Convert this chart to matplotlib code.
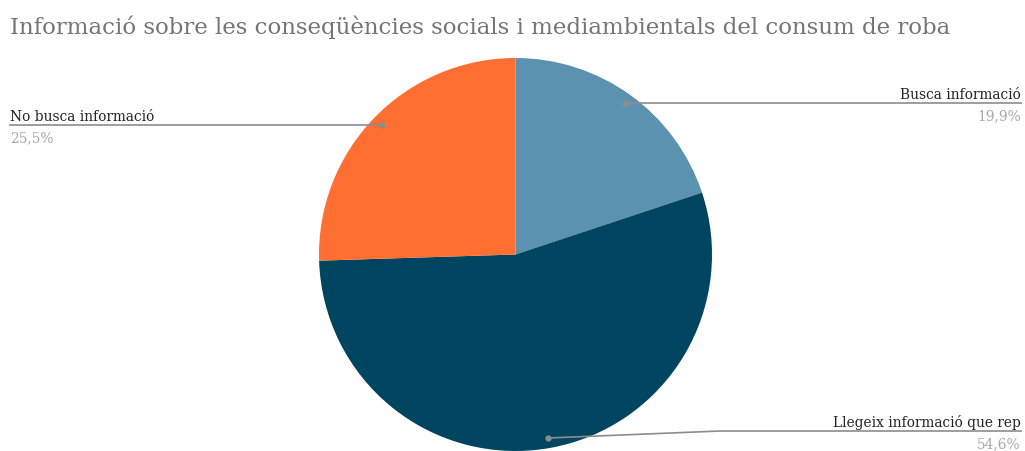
import matplotlib
matplotlib.use("Agg")
import matplotlib.pyplot as plt

labels = ["Busca informació", "Llegeix informació que rep", "No busca informació"]
values = [19.9, 54.6, 25.5]
pct_labels = ["19,9%", "54,6%", "25,5%"]
colors = ["#5b92b0", "#00455f", "#ff6f31"]
title = "Informació sobre les conseqüències socials i mediambientals del consum de roba"

W, H = 1025, 451
fig = plt.figure(figsize=(W / 100, H / 100), dpi=100)
ax = fig.add_axes([0, 0, 1, 1])

cx, cy, r = 515.5, H - 254.5, 196.5
ax.pie(values, colors=colors, startangle=90, counterclock=False,
       center=(cx, cy), radius=r, frame=True,
       wedgeprops=dict(linewidth=0))
ax.set_xlim(0, W)
ax.set_ylim(0, H)
ax.set_aspect("equal")
ax.axis("off")

serif = ["DejaVu Serif"]
fig.text(10 / W, 1 - 27 / H, title, fontsize=16.5, color="#757575",
         family=serif, ha="left", va="center")

line_c = "#8c8c8c"
lab_c = "#222222"
pct_c = "#a8a8a8"
fs = 9.9

# Busca informació
ax.plot([625, 1021], [H - 103, H - 103], color=line_c, lw=1.2)
ax.plot([625], [H - 103], "o", color=line_c, ms=3.5)
ax.text(1021, H - 99, labels[0], ha="right", va="baseline", fontsize=fs, color=lab_c, family=serif)
ax.text(1021, H - 120, pct_labels[0], ha="right", va="baseline", fontsize=fs, color=pct_c, family=serif)

# No busca informació
ax.plot([382, 10], [H - 125, H - 125], color=line_c, lw=1.2)
ax.plot([382], [H - 125], "o", color=line_c, ms=3.5)
ax.text(10, H - 121, labels[2], ha="left", va="baseline", fontsize=fs, color=lab_c, family=serif)
ax.text(10, H - 142, pct_labels[2], ha="left", va="baseline", fontsize=fs, color=pct_c, family=serif)

# Llegeix informació que rep
ax.plot([548, 720, 1021], [H - 438, H - 431, H - 431], color=line_c, lw=1.2)
ax.plot([548], [H - 438], "o", color=line_c, ms=3.5)
ax.text(1021, H - 427, labels[1], ha="right", va="baseline", fontsize=fs, color=lab_c, family=serif)
ax.text(1021, H - 448, pct_labels[1], ha="right", va="baseline", fontsize=fs, color=pct_c, family=serif)

fig.savefig("out.png", dpi=100)
